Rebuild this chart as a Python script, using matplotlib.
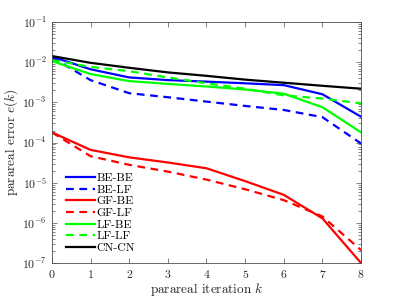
import matplotlib
matplotlib.use('Agg')
import matplotlib.pyplot as plt
import numpy as np

plt.rcParams['font.family'] = 'serif'
plt.rcParams['font.serif'] = ['cmr10', 'DejaVu Serif']
plt.rcParams['mathtext.fontset'] = 'cm'
plt.rcParams['axes.formatter.use_mathtext'] = True

# parareal iterations
k = [0, 1, 2, 3, 4, 5, 6, 7, 8]

# errors
be_be = [1.38e-2, 6.7e-3, 4.2e-3, 3.6e-3, 3.3e-3, 3.0e-3, 2.7e-3, 1.6e-3, 4.4e-4]
be_lf = [1.33e-2, 3.6e-3, 1.7e-3, 1.35e-3, 1.05e-3, 8.2e-4, 6.5e-4, 4.3e-4, 9.5e-5]
gf_be = [1.8e-4, 6.6e-5, 4.3e-5, 3.2e-5, 2.3e-5, 1.1e-5, 5.0e-6, 1.3e-6, 1.0e-7]
gf_lf = [1.8e-4, 4.6e-5, 2.8e-5, 1.9e-5, 1.2e-5, 6.9e-6, 3.7e-6, 1.45e-6, 2.1e-7]
lf_be = [1.07e-2, 5.1e-3, 3.4e-3, 2.9e-3, 2.5e-3, 2.1e-3, 1.65e-3, 7.6e-4, 1.8e-4]
lf_lf = [1.13e-2, 7.7e-3, 6.0e-3, 4.2e-3, 3.0e-3, 2.2e-3, 1.5e-3, 1.25e-3, 9.5e-4]
cn_cn = [1.43e-2, 9.7e-3, 7.3e-3, 5.6e-3, 4.6e-3, 3.7e-3, 3.1e-3, 2.6e-3, 2.2e-3]

fig = plt.figure(figsize=(3.99, 2.99), dpi=100)
ax = fig.add_axes([0.130, 0.120, 0.775, 0.806])

lw = 1.6
dash = (0, (3.5, 2.5))
ax.semilogy(k, be_be, color=(0, 0, 1), lw=lw, label='BE-BE')
ax.semilogy(k, be_lf, color=(0, 0, 1), lw=lw, ls=dash, label='BE-LF')
ax.semilogy(k, gf_be, color=(1, 0, 0), lw=lw, label='GF-BE')
ax.semilogy(k, gf_lf, color=(1, 0, 0), lw=lw, ls=dash, label='GF-LF')
ax.semilogy(k, lf_be, color=(0, 1, 0), lw=lw, label='LF-BE')
ax.semilogy(k, lf_lf, color=(0, 1, 0), lw=lw, ls=dash, label='LF-LF')
ax.semilogy(k, cn_cn, color='black', lw=lw, label='CN-CN')

ax.set_xlim(0, 8)
ax.set_ylim(1e-7, 1e-1)
ax.set_xticks(range(0, 9))
ax.set_yticks([1e-7, 1e-6, 1e-5, 1e-4, 1e-3, 1e-2, 1e-1])

for s in ax.spines.values():
    s.set_color('#4d4d4d')
    s.set_linewidth(0.6)
ax.tick_params(which='both', direction='in', top=True, right=True,
               colors='#4d4d4d', labelcolor='#262626', labelsize=8.5, width=0.5)
ax.tick_params(which='major', length=3.5)
ax.tick_params(which='minor', length=2)

ax.set_xlabel('parareal iteration $k$', fontsize=9.5, color='#262626', labelpad=1)
ax.set_ylabel('parareal error $e(k)$', fontsize=9.5, color='#262626', labelpad=2)

leg = ax.legend(loc='lower left', bbox_to_anchor=(0.031, 0.022), frameon=False,
                fontsize=8.5, handlelength=2.4, handletextpad=0.2,
                labelspacing=0.12, borderaxespad=0)

fig.savefig('out.png', dpi=100)
